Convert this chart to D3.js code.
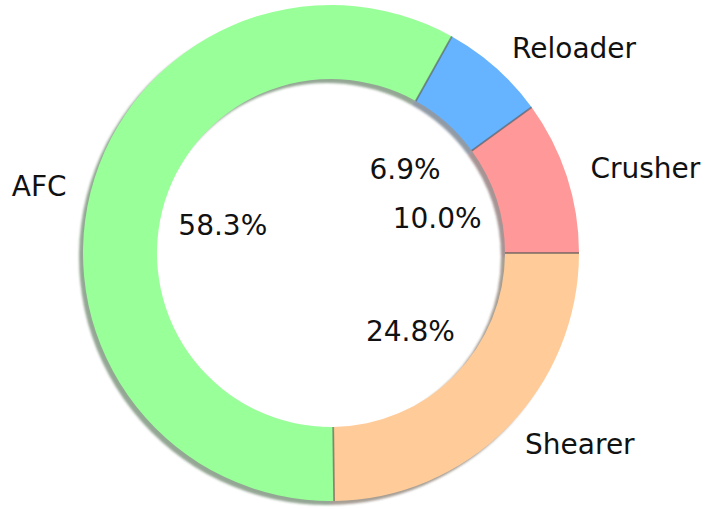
<!DOCTYPE html>
<html>
<head>
<meta charset="utf-8">
<script src="https://cdn.jsdelivr.net/npm/d3@7"></script>
<style>
  html, body { margin: 0; padding: 0; background: #fff; }
  svg { display: block; }
  text { font-family: "DejaVu Sans", sans-serif; }
</style>
</head>
<body>
<svg id="chart" width="707" height="509"></svg>
<script>
const categories = ["Crusher", "Reloader", "AFC", "Shearer"];
const values = [10.0, 6.9, 58.3, 24.8];
const colors = ["#ff9999", "#66b3ff", "#99ff99", "#ffcc99"];

const width = 707, height = 509;
const cx = 331, cy = 253, R = 248, r = 174;

const svg = d3.select("#chart");
const defs = svg.append("defs");
defs.append("filter").attr("id", "blur")
  .attr("x", "-10%").attr("y", "-10%").attr("width", "120%").attr("height", "120%")
  .append("feGaussianBlur").attr("stdDeviation", 1.2);

const data = categories.map((c, i) => ({ name: c, value: values[i], color: colors[i] }));

// matplotlib: start at 3 o'clock, counter-clockwise
const pie = d3.pie().sort(null).value(d => d.value)
  .startAngle(Math.PI / 2).endAngle(Math.PI / 2 - 2 * Math.PI);
const arcs = pie(data);

const arc = d3.arc().innerRadius(r).outerRadius(R);

const g = svg.append("g").attr("transform", `translate(${cx},${cy})`);

// shadows
const shadowG = g.append("g").attr("transform", "translate(-4,4)").attr("filter", "url(#blur)");
shadowG.selectAll("path").data(arcs).join("path")
  .attr("d", arc)
  .attr("fill", d => {
    const c = d3.rgb(d.data.color);
    return d3.rgb(c.r * 0.3, c.g * 0.3, c.b * 0.3).toString();
  })
  .attr("fill-opacity", 0.5);

// wedges
g.append("g").selectAll("path").data(arcs).join("path")
  .attr("d", arc)
  .attr("fill", d => d.data.color);

// seams between wedges
const seam = g.append("g");
arcs.forEach(d => {
  const a = d.startAngle;
  seam.append("line")
    .attr("x1", r * Math.sin(a)).attr("y1", -r * Math.cos(a))
    .attr("x2", R * Math.sin(a)).attr("y2", -R * Math.cos(a))
    .attr("stroke", "#555").attr("stroke-opacity", 0.6).attr("stroke-width", 1.8);
});

// category labels
const labelArc = d3.arc().innerRadius(R * 1.1).outerRadius(R * 1.1);
g.append("g").selectAll("text").data(arcs).join("text")
  .attr("x", d => labelArc.centroid(d)[0])
  .attr("y", d => labelArc.centroid(d)[1])
  .attr("text-anchor", d => labelArc.centroid(d)[0] >= 0 ? "start" : "end")
  .attr("dominant-baseline", "central")
  .attr("font-size", 28)
  .attr("fill", "#111")
  .text(d => d.data.name);

// percentage labels
const pctArc = d3.arc().innerRadius(R * 0.45).outerRadius(R * 0.45);
g.append("g").selectAll("text").data(arcs).join("text")
  .attr("x", d => pctArc.centroid(d)[0])
  .attr("y", d => pctArc.centroid(d)[1])
  .attr("text-anchor", "middle")
  .attr("dominant-baseline", "central")
  .attr("font-size", 28)
  .attr("fill", "#111")
  .text(d => d.data.value.toFixed(1) + "%");
</script>
</body>
</html>
